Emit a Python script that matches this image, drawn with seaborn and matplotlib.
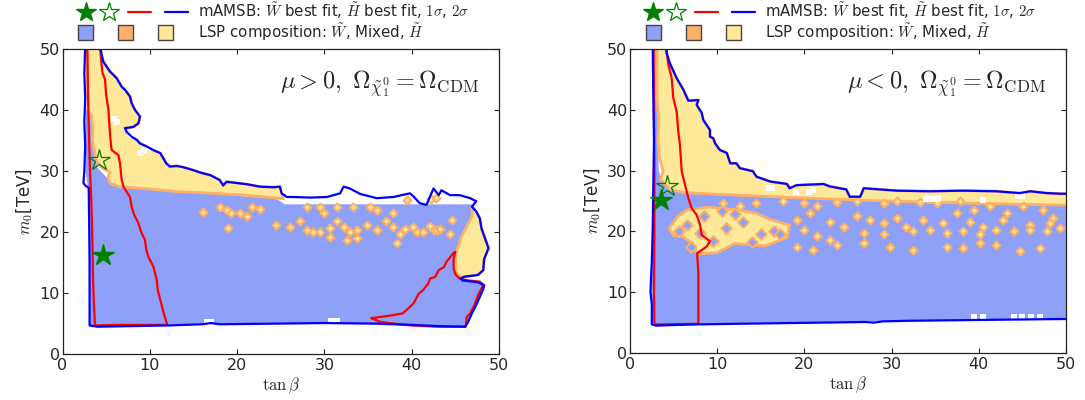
import numpy as np
import matplotlib
matplotlib.use("Agg")
import matplotlib.pyplot as plt
import seaborn as sns
from matplotlib.lines import Line2D
from matplotlib.patches import Patch, Rectangle
from matplotlib.legend_handler import HandlerBase, HandlerLine2D, HandlerPatch

# ------------------------------------------------------------------ data
ticks = [0, 10, 20, 30, 40, 50]
panel_labels = [r"$\mu > 0,\ \Omega_{\tilde{\chi}^0_1} = \Omega_{\rm CDM}$",
                r"$\mu < 0,\ \Omega_{\tilde{\chi}^0_1} = \Omega_{\rm CDM}$"]
legend_labels = [r"mAMSB: $\tilde{W}$ best fit, $\tilde{H}$ best fit, $1\sigma$, $2\sigma$",
                 r"LSP composition: $\tilde{W}$, Mixed, $\tilde{H}$"]

# ---------- mu > 0 ----------
pos_sig2_x = [2.6, 2.5, 2.6, 2.5, 2.6, 2.5, 2.4, 2.6, 3.0, 3.05, 3.1, 3.1, 3.1,
              4.0, 8.0, 12.0, 16.0, 17.0, 18.0, 24.0, 30.0, 36.0, 40.0, 43.0, 46.1,
              46.4, 46.9, 47.4, 47.9, 48.2, 48.3, 47.6, 45.8, 45.6, 46.0, 47.6, 48.2, 48.3,
              48.8, 48.4, 48.0, 47.8, 47.4, 46.9, 47.4, 46.7, 45.5, 44.4, 43.4, 43.1, 42.5,
              42.1, 41.7, 40.9, 40.2, 39.8, 37.9, 36.0, 34.1, 32.9, 32.2, 31.8, 30.3, 28.4,
              26.4, 25.7, 25.1, 24.9, 24.2, 22.6, 21.1, 18.8, 18.4, 18.0, 16.9, 15.8, 15.0,
              13.8, 13.1, 12.3, 11.9, 11.2, 10.4, 9.64, 8.88, 8.5, 7.92, 7.35, 7.16, 8.11,
              8.7, 8.88, 8.3, 7.92, 7.73, 7.16, 6.78, 6.21, 5.44, 5.06, 4.68, 4.49, 4.3]
pos_sig2_y = [50.5, 46, 42, 38, 34, 30, 28, 27.6, 27.2, 22, 15, 8, 4.6,
              4.4, 4.5, 4.6, 4.8, 5.0, 4.8, 4.9, 5.0, 4.9, 4.7, 4.5, 4.4,
              5.0, 6.6, 8.0, 9.6, 10.6, 11.2, 11.7, 12.0, 12.3, 12.6, 12.9, 13.7, 15.5,
              17.3, 18.9, 20.5, 22.2, 23.3, 24.1, 25.0, 25.5, 26.0, 26.0, 26.8, 26.0, 27.1,
              25.8, 24.4, 24.7, 25.8, 26.3, 25.7, 25.5, 26.2, 27.1, 27.4, 26.3, 25.7, 25.6,
              25.7, 25.7, 26.3, 27.4, 27.3, 27.4, 27.8, 28.2, 27.6, 28.5, 29.3, 29.7, 30.1,
              30.6, 30.8, 30.7, 31.2, 32.9, 33.4, 34.0, 34.5, 35.1, 35.6, 36.4, 37.0, 37.2,
              37.8, 38.9, 40.0, 41.1, 42.2, 43.3, 43.8, 45.2, 46.3, 47.1, 47.9, 49.0, 50.5]
pos_sig1a_x = [2.84, 2.9, 2.96, 3.05, 3.15, 3.3, 3.4, 3.5, 3.6, 3.72,
               6.0, 9.0, 12.0, 11.6, 11.2, 10.9, 10.8, 10.4, 9.83, 9.6, 9.45, 9.0, 8.69,
               8.2, 7.92, 7.73, 6.97, 6.78, 6.59, 6.40, 5.63, 5.5, 5.44, 5.25, 5.0,
               4.87, 4.6, 4.49, 4.3]
pos_sig1a_y = [50.5, 45, 40, 35, 30, 25, 20, 12, 8, 4.6,
               4.7, 4.7, 4.7, 6.6, 8.8, 10.5, 12.1, 14.3, 15.9, 17.0, 18.6, 20.0, 21.4,
               22.8, 24.1, 25.7, 27.4, 28.5, 31.2, 32.6, 33.4, 35.0, 36.2, 40.1, 42.5,
               45.0, 46.0, 47.1, 50.5]
pos_sig1b_x = [35.4, 36.4, 37.9, 39.0, 40.2, 40.8, 41.3, 41.9, 42.1, 42.7, 43.1, 43.7,
               44.0, 44.8, 45.0, 44.8, 44.8, 45.0, 45.5, 46.5, 47.8, 48.2, 47.9, 47.6,
               47.2, 46.7, 46.3, 46.2, 43.0, 40.0, 38.0, 36.4]
pos_sig1b_y = [5.8, 6.0, 6.3, 6.6, 8.2, 9.8, 10.4, 11.5, 12.3, 12.6, 13.7, 14.2,
               15.1, 16.5, 16.7, 15.5, 14.0, 13.0, 12.3, 12.0, 11.8, 11.3, 10.4, 9.6,
               8.0, 6.6, 6.0, 4.4, 4.4, 4.6, 4.9, 5.2]
pos_wino_x = [2.7, 2.65, 2.9, 3.05, 3.1, 4.0, 8.0, 12.0, 16.0, 24.0, 36.0, 43.0, 46.1,
              46.4, 46.9, 47.4, 47.9, 48.2, 48.3, 47.6, 45.8, 45.3, 45.0, 45.0, 45.3,
              45.7, 46.3, 46.9, 46.9, 25.5, 24.5, 6.0, 4.0, 3.6, 3.4, 3.0]
pos_wino_y = [40, 30, 27.3, 20, 4.6, 4.5, 4.6, 4.7, 4.9, 5.0, 5.0, 4.6, 4.5,
              5.0, 6.6, 8.0, 9.6, 10.6, 11.2, 11.7, 12.0, 12.5, 13.5, 16.0, 17.5,
              19.2, 20.8, 22.5, 24.5, 24.5, 25.4, 27.5, 30.5, 34, 38, 40]
pos_hig_x = [25.1, 24.9, 24.2, 22.6, 21.1, 18.8, 18.4, 18.0, 16.9, 15.8, 15.0,
             13.8, 13.1, 12.3, 11.9, 11.2, 10.4, 9.64, 8.88, 8.5, 7.92, 7.35, 7.16, 8.11,
             8.7, 8.88, 8.3, 7.92, 7.73, 7.16, 6.78, 6.21, 5.44, 5.06, 4.68, 4.49, 4.3,
             2.8, 2.85, 2.9, 3.3, 3.5, 3.4, 3.7, 3.9, 4.5, 5.4, 5.2, 5.5, 6.5, 10.0,
             13.0, 16.0, 20.0, 24.0, 25.3]
pos_hig_y = [26.3, 27.4, 27.3, 27.4, 27.8, 28.2, 27.6, 28.5, 29.3, 29.7, 30.1,
             30.6, 30.8, 30.7, 31.2, 32.9, 33.4, 34.0, 34.5, 35.1, 35.6, 36.4, 37.0, 37.2,
             37.8, 38.9, 40.0, 41.1, 42.2, 43.3, 43.8, 45.2, 46.3, 47.1, 47.9, 49.0, 50.5,
             50.5, 45, 40, 39, 37, 35, 33, 31.5, 30.5, 29.8, 28.8, 27.9, 27.4, 27.0,
             26.6, 26.4, 26.1, 25.6, 25.4]
pos_hig2_x = [46.9, 47.4, 47.8, 48.0, 48.4, 48.8, 48.3, 48.2, 47.6, 46.0, 45.6, 45.1,
              45.0, 45.3, 45.7, 46.3, 46.9]
pos_hig2_y = [24.1, 23.3, 22.2, 20.5, 18.9, 17.3, 15.5, 13.7, 12.9, 12.6, 12.5, 13.2,
              15.9, 17.5, 19.2, 20.8, 22.5]
pos_mix_x = [16.1, 18.0, 18.8, 19.0, 19.3, 20.3, 21.1, 21.7, 22.6, 24.5,
             26.1, 27.2, 28.0, 28.7, 28.0, 29.5, 29.5, 29.9, 30.6, 30.6,
             31.4, 31.4, 32.2, 32.6, 32.9, 33.3, 33.7, 33.7, 34.9, 35.2,
             36.0, 36.0, 37.1, 37.9, 37.9, 38.3, 38.7, 39.2, 40.2, 40.6,
             41.3, 42.1, 42.5, 42.9, 43.2, 44.4, 44.6, 42.2, 42.8, 39.5]
pos_mix_y = [23.3, 24.1, 23.6, 20.6, 23.0, 23.0, 22.5, 24.1, 23.8, 21.1,
             20.8, 21.7, 20.3, 20.0, 24.1, 24.1, 20.0, 23.0, 20.6, 19.2,
             21.7, 24.1, 20.8, 18.6, 20.0, 24.1, 20.3, 18.9, 21.1, 24.0,
             20.3, 23.6, 21.7, 20.8, 23.0, 18.1, 19.7, 20.5, 20.8, 20.0,
             20.0, 21.0, 20.2, 20.3, 20.5, 19.7, 21.9, 25.3, 25.6, 25.2]
pos_gap_x = [8.9, 9.3, 9.8, 7.7, 8.0, 16.5, 17.0, 30.8, 31.4, 5.9, 6.3]
pos_gap_y = [33.0, 33.3, 33.8, 36.2, 35.8, 5.15, 5.15, 5.3, 5.3, 38.5, 38.0]
pos_best_wino = (4.6, 16.1)
pos_best_hig = (4.2, 31.8)

# ---------- mu < 0 ----------
neg_sig2_x = [2.6, 2.65, 2.7, 2.75, 2.7, 2.65, 2.6, 2.5, 2.4, 2.35, 2.5, 2.5,
              3.0, 5.0, 7.6, 12.0, 17.0, 22.0, 27.0, 28.0, 29.0, 32.0, 38.0, 44.0, 50.5,
              50.5, 49.3, 47.8, 45.9, 44.7, 42.0, 38.2, 34.4, 30.6, 26.8, 26.4, 25.2,
              24.8, 22.9, 22.2, 19.1, 18.3, 18.0, 16.1, 14.5, 14.1, 12.6, 12.2, 11.5,
              11.1, 10.3, 9.75, 9.56, 9.17, 9.17, 8.41, 8.22, 7.65, 7.84, 6.69, 6.12,
              5.35, 4.59, 4.2, 4.13]
neg_sig2_y = [50.5, 45, 40, 35, 30, 25, 20, 15, 12, 10, 8, 4.7,
              4.5, 4.6, 4.7, 4.8, 4.9, 5.0, 5.1, 5.0, 5.2, 5.3, 5.4, 5.5, 5.6,
              26.2, 26.2, 26.3, 26.6, 26.3, 26.6, 26.7, 26.6, 26.7, 27.1, 25.7, 25.7,
              26.9, 27.4, 27.8, 27.6, 27.1, 27.8, 28.2, 29.0, 29.9, 30.4, 31.2, 31.2,
              32.9, 33.4, 34.5, 35.3, 35.6, 36.7, 38.3, 39.5, 40.8, 41.6, 41.5, 43.3,
              45.2, 47.6, 49.3, 50.5]
neg_sig1_x = [2.7, 2.75, 2.8, 2.8, 2.75, 2.8, 5.0, 7.84, 7.84, 7.84, 7.7, 8.79,
              9.17, 8.22, 8.03, 7.65, 7.07, 6.69, 6.3, 5.93, 5.73, 5.54, 5.35, 4.97,
              4.78, 4.4, 4.13]
neg_sig1_y = [50.5, 40, 30, 20, 10, 4.7, 4.75, 4.8, 8.0, 13.2, 16.4, 17.5,
              18.4, 19.4, 21.1, 22.7, 23.8, 25.5, 27.7, 29.9, 34.2, 36.4, 39.7, 41.9,
              45.2, 47.4, 50.5]
neg_wino_x = [2.75, 2.75, 2.7, 2.6, 2.5, 2.45, 2.55, 2.6, 7.6, 17.0, 27.0, 38.0,
              50.5, 50.5, 40.0, 27.0, 18.0, 10.0, 6.0, 4.5, 3.6, 3.3, 3.2, 3.3,
              3.1, 3.1]
neg_wino_y = [50.5, 40, 30, 20, 15, 10, 8, 4.8, 4.8, 5.0, 5.2, 5.5,
              5.7, 24.3, 24.6, 25.1, 25.6, 26.1, 26.4, 27.0, 28.5, 30, 35, 38,
              42, 50.5]
neg_hig_x = [50.5, 49.3, 47.8, 45.9, 44.7, 42.0, 38.2, 34.4, 30.6, 26.8, 26.4, 25.2,
             24.8, 22.9, 22.2, 19.1, 18.3, 18.0, 16.1, 14.5, 14.1, 12.6, 12.2, 11.5,
             11.1, 10.3, 9.75, 9.56, 9.17, 9.17, 8.41, 8.22, 7.65, 7.84, 6.69, 6.12,
             5.35, 4.59, 4.2, 4.13, 3.1, 3.1, 3.3, 3.2, 3.4, 3.8, 3.5, 4.5, 6.0,
             10.0, 18.0, 27.0, 40.0, 50.5]
neg_hig_y = [26.2, 26.2, 26.3, 26.6, 26.3, 26.6, 26.7, 26.6, 26.7, 27.1, 25.7, 25.7,
             26.9, 27.4, 27.8, 27.6, 27.1, 27.8, 28.2, 29.0, 29.9, 30.4, 31.2, 31.2,
             32.9, 33.4, 34.5, 35.3, 35.6, 36.7, 38.3, 39.5, 40.8, 41.6, 41.5, 43.3,
             45.2, 47.6, 49.3, 50.5, 50.5, 42, 38, 35, 32, 30, 28.5, 27.0, 26.4,
             26.1, 25.6, 25.1, 24.6, 24.3]
neg_hig2_x = [4.5, 5.5, 6.5, 9.0, 12.0, 14.5, 16.0, 18.3, 18.0, 15.5, 12.0, 10.0,
              7.7, 7.2, 6.0, 5.0]
neg_hig2_y = [20.5, 22.5, 23.5, 24.0, 23.6, 23.0, 22.0, 21.0, 19.0, 17.6, 18.0, 16.5,
              16.3, 18.0, 19.2, 19.3]
neg_hole_x = [6.5, 8.5, 11.0, 13.0, 9.5, 15.0, 12.0, 16.5, 7.0, 10.5, 14.0, 5.6, 17.2, 8.0]
neg_hole_y = [21.0, 22.5, 20.5, 21.5, 18.5, 19.5, 22.8, 20.0, 17.5, 23.3, 18.3, 20.0, 19.6, 19.8]
neg_mix_x = [10.7, 12.6, 14.5, 17.6, 19.9, 21.4, 23.7, 26.0, 29.1, 30.6, 33.3, 35.2,
             37.8, 39.4, 41.3, 43.2, 45.1, 47.4, 48.5,
             19.1, 20.6, 22.9, 24.5, 26.0, 27.5, 29.1, 30.6, 31.7, 33.6, 35.9, 37.5,
             39.0, 40.5, 42.8, 45.9, 48.2,
             19.9, 21.4, 22.9, 26.8, 29.1, 32.5, 34.4, 36.3, 38.2, 40.1, 42.0, 44.0,
             45.9, 47.8, 49.3,
             19.1, 21.0, 23.7, 26.8, 29.8, 32.5, 36.3, 38.2, 40.1, 42.0, 44.7, 47.0]
neg_mix_y = [24.7, 24.1, 24.7, 25.0, 24.7, 24.1, 24.9, 25.0, 24.7, 25.0, 24.9, 24.7,
             25.0, 23.6, 24.1, 23.0, 24.1, 23.6, 22.2,
             21.9, 23.0, 21.6, 20.8, 22.5, 21.9, 21.4, 22.2, 20.8, 21.9, 21.4, 23.0,
             21.6, 20.8, 21.9, 21.1, 21.4,
             20.3, 19.2, 18.6, 19.7, 19.5, 20.0, 20.3, 19.7, 20.0, 19.5, 20.3, 20.0,
             20.3, 20.0, 20.6,
             17.5, 17.0, 17.8, 18.1, 17.5, 17.0, 17.5, 17.3, 18.1, 17.8, 16.7, 17.3]
neg_gap_x = [15.9, 16.3, 19.0, 20.5, 21.0, 34.0, 34.6, 35.3, 40.5, 44.5, 45.0,
             39.5, 40.5, 44.0, 45.0, 46.0, 47.0]
neg_gap_y = [27.1, 27.1, 26.5, 26.5, 26.8, 25.4, 25.4, 25.4, 25.2, 25.8, 25.8,
             5.85, 5.85, 5.9, 5.9, 5.9, 5.9]
neg_best_wino = (3.6, 25.2)
neg_best_hig = (4.2, 27.4)

# ------------------------------------------------------------------ style
sns.set_style("ticks")
plt.rcParams["font.family"] = ["DejaVu Sans"]
plt.rcParams["mathtext.fontset"] = "cm"

C_WINO = "#8fa0f8"
C_HIG = "#fee99a"
C_MIX = "#fdb066"
C_RED = "#ff0000"
C_BLUE = "#0000ff"
C_GREEN = "#008000"

fig = plt.figure(figsize=(10.85, 4.0), dpi=100)
ax1 = fig.add_axes([62.5 / 1085, 46.5 / 400, 436.5 / 1085, 304.5 / 400])
ax2 = fig.add_axes([630 / 1085, 47.0 / 400, 436.0 / 1085, 304.0 / 400])


def closed(x, y):
    return np.r_[x, x[:1]], np.r_[y, y[:1]]


def draw_panel(ax, wino, higs, holes, mix, gaps, sig1s, sig2, best_w, best_h, label):
    ax.fill(wino[0], wino[1], color=C_WINO, lw=0, zorder=1)
    for hx, hy in higs:
        ax.fill(hx, hy, facecolor=C_HIG, edgecolor=C_MIX, lw=2.0, zorder=2)
    if holes is not None:
        sns.scatterplot(x=holes[0], y=holes[1], marker="D", s=30, color=C_WINO,
                        edgecolor=C_MIX, linewidth=1.4, ax=ax, zorder=3)
    sns.scatterplot(x=mix[0], y=mix[1], marker="D", s=16, color=C_HIG,
                    edgecolor=C_MIX, linewidth=1.5, ax=ax, zorder=3)
    sns.scatterplot(x=gaps[0], y=gaps[1], marker="s", s=22, color="white",
                    linewidth=0, ax=ax, zorder=3)
    for sx, sy in sig1s:
        cx, cy = closed(sx, sy)
        sns.lineplot(x=cx, y=cy, sort=False, estimator=None, color=C_RED,
                     lw=1.6, ax=ax, zorder=5)
    cx, cy = closed(*sig2)
    sns.lineplot(x=cx, y=cy, sort=False, estimator=None, color=C_BLUE,
                 lw=1.6, ax=ax, zorder=6)
    ax.plot([best_h[0]], [best_h[1]], marker="*", ms=16, mfc="none",
            mec=C_GREEN, mew=0.9, ls="none", zorder=7)
    ax.plot([best_w[0]], [best_w[1]], marker="*", ms=16, color=C_GREEN,
            ls="none", zorder=7)
    ax.text(0.955, 0.885, label, transform=ax.transAxes, ha="right",
            va="center", fontsize=17.5)
    ax.set_xlim(0, 50)
    ax.set_ylim(0, 50)
    ax.set_xticks(ticks)
    ax.set_yticks(ticks)
    ax.set_xlabel(r"$\tan\beta$", fontsize=12, labelpad=2)
    ax.set_ylabel(r"$m_0$[TeV]", fontsize=12, labelpad=3)
    ax.tick_params(direction="in", length=3.5, width=0.8, top=True, right=True,
                   labelsize=11.5, color="#222222")
    ax.tick_params(axis="y", pad=2)
    ax.tick_params(axis="x", pad=3)
    for sp in ax.spines.values():
        sp.set_linewidth(0.9)
        sp.set_color("#222222")
        sp.set_zorder(10)


draw_panel(ax1, (pos_wino_x, pos_wino_y),
           [(pos_hig_x, pos_hig_y), (pos_hig2_x, pos_hig2_y)], None,
           (pos_mix_x, pos_mix_y), (pos_gap_x, pos_gap_y),
           [(pos_sig1a_x, pos_sig1a_y), (pos_sig1b_x, pos_sig1b_y)],
           (pos_sig2_x, pos_sig2_y), pos_best_wino, pos_best_hig, panel_labels[0])
draw_panel(ax2, (neg_wino_x, neg_wino_y),
           [(neg_hig_x, neg_hig_y), (neg_hig2_x, neg_hig2_y)],
           (neg_hole_x, neg_hole_y),
           (neg_mix_x, neg_mix_y), (neg_gap_x, neg_gap_y),
           [(neg_sig1_x, neg_sig1_y)],
           (neg_sig2_x, neg_sig2_y), neg_best_wino, neg_best_hig, panel_labels[1])


# ------------------------------------------------------------------ legend
class Row:
    def __init__(self, handles):
        self.handles = handles


class RowHandler(HandlerBase):
    def __init__(self, slots):
        super().__init__()
        self.slots = slots  # (handle_handler, center_frac, width_frac)

    def create_artists(self, legend, orig_handle, xdescent, ydescent, width,
                       height, fontsize, trans):
        arts = []
        for h, (hd, c, w) in zip(orig_handle.handles, self.slots):
            sw = w * width
            x0 = c * width - sw / 2
            arts.extend(hd.create_artists(legend, h, xdescent - x0, ydescent,
                                          sw, height, fontsize, trans))
        return arts


def square(legend, orig_handle, xdescent, ydescent, width, height, fontsize):
    s = 1.0 * fontsize
    return Rectangle((-xdescent + width / 2 - s / 2, -ydescent + height / 2 - s / 2), s, s)


for ax in (ax1, ax2):
    row1 = Row([Line2D([], [], marker="*", ms=15, color=C_GREEN, ls="none"),
                Line2D([], [], marker="*", ms=15, mfc="none", mec=C_GREEN, mew=0.9, ls="none"),
                Line2D([], [], color=C_RED, lw=1.6),
                Line2D([], [], color=C_BLUE, lw=1.6)])
    row2 = Row([Patch(facecolor=C_WINO, edgecolor="#444444", lw=1.0),
                Patch(facecolor=C_MIX, edgecolor="#444444", lw=1.0),
                Patch(facecolor=C_HIG, edgecolor="#444444", lw=1.0)])
    hl = HandlerLine2D()
    hp = HandlerPatch(patch_func=square)
    hmap = {row1: RowHandler([(hl, 0.097, 0.0), (hl, 0.30, 0.0),
                              (hl, 0.571, 0.204), (hl, 0.898, 0.204)]),
            row2: RowHandler([(hp, 0.097, 0.2), (hp, 0.451, 0.2), (hp, 0.805, 0.2)])}
    ax.legend([row1, row2], legend_labels, handler_map=hmap, loc="lower left",
              bbox_to_anchor=(0.0286, 1.02), frameon=False, fontsize=10.8,
              handlelength=7.53, handletextpad=0.67, borderpad=0,
              borderaxespad=0, labelspacing=0.0)

fig.savefig("out.png", dpi=100)
